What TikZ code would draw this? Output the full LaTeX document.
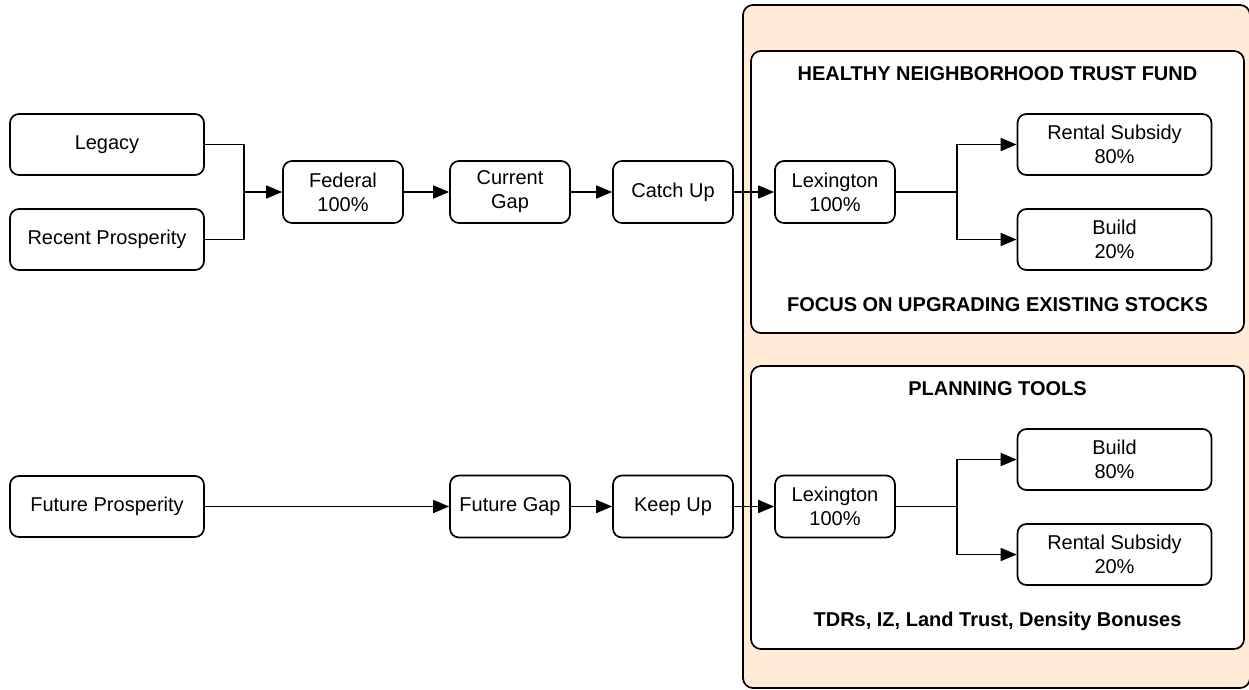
\documentclass[tikz,border=0pt]{standalone}
\usepackage{fontspec}
\setmainfont{Liberation Sans}
\usetikzlibrary{arrows.meta}
\definecolor{panelfill}{HTML}{FFEBD6}
\begin{document}
\begin{tikzpicture}[x=1pt,y=-1pt,
  txt/.style={font=\fontsize{20}{24}\selectfont},
  ttl/.style={font=\bfseries\fontsize{20}{24}\selectfont},
  box/.style={draw, fill=white, rounded corners=9pt, line width=1.7pt, align=center, txt, inner sep=0pt},
  small/.style={box, minimum width=120pt, minimum height=62pt},
  large/.style={box, minimum width=194pt, minimum height=61pt},
  panel/.style={draw, line width=1.7pt, rounded corners=10pt},
  conn/.style={line width=1.7pt},
  arr/.style={conn, -{Triangle[length=16pt,width=13pt]}}
]
\useasboundingbox (0,0) rectangle (1249,689);
% panels
\draw[panel, fill=panelfill] (743,5) rectangle (1250,688);
\draw[panel, fill=white] (751,51) rectangle (1244,333);
\draw[panel, fill=white] (751,366) rectangle (1244,649);
\node[ttl] (t1) at (997.5,74) {HEALTHY NEIGHBORHOOD TRUST FUND};
\node[ttl] (t2) at (997.5,305) {FOCUS ON UPGRADING EXISTING STOCKS};
\node[ttl] (t3) at (997.5,389) {PLANNING TOOLS};
\node[ttl] (t4) at (997.5,621) {TDRs, IZ, Land Trust, Density Bonuses};
% top row
\node[large] (leg) at (107,144.5) {Legacy};
\node[large] (rec) at (107,239.5) {Recent Prosperity};
\node[small] (fed) at (343,192) {Federal\\100\%};
\node[small] (cur) at (510,192) {Current\\Gap};
\node[small] (cat) at (673,192) {Catch Up};
\node[small] (lex1) at (835,192) {Lexington\\100\%};
\node[large] (rs1) at (1114.5,144.5) {Rental Subsidy\\80\%};
\node[large] (b1) at (1114.5,239.5) {Build\\20\%};
\coordinate (j1) at (244,192);
\coordinate (s1) at (957,192);
\draw[conn] (leg.east) -| (j1);
\draw[conn] (rec.east) -| (j1);
\draw[arr] (j1) -- (fed);
\draw[arr] (fed) -- (cur);
\draw[arr] (cur) -- (cat);
\draw[arr] (cat) -- (lex1);
\draw[conn] (lex1.east) -- (s1);
\draw[arr] (s1) |- (rs1.west);
\draw[arr] (s1) |- (b1.west);
% bottom row
\node[large] (fp) at (107,506.5) {Future Prosperity};
\node[small] (fg) at (510,506.5) {Future Gap};
\node[small] (ku) at (673,506.5) {Keep Up};
\node[small] (lex2) at (835,506.5) {Lexington\\100\%};
\node[large] (b2) at (1114.5,459.5) {Build\\80\%};
\node[large] (rs2) at (1114.5,554.5) {Rental Subsidy\\20\%};
\coordinate (s2) at (957,506.5);
\draw[arr] (fp) -- (fg);
\draw[arr] (fg) -- (ku);
\draw[arr] (ku) -- (lex2);
\draw[conn] (lex2.east) -- (s2);
\draw[arr] (s2) |- (b2.west);
\draw[arr] (s2) |- (rs2.west);
\end{tikzpicture}
\end{document}
